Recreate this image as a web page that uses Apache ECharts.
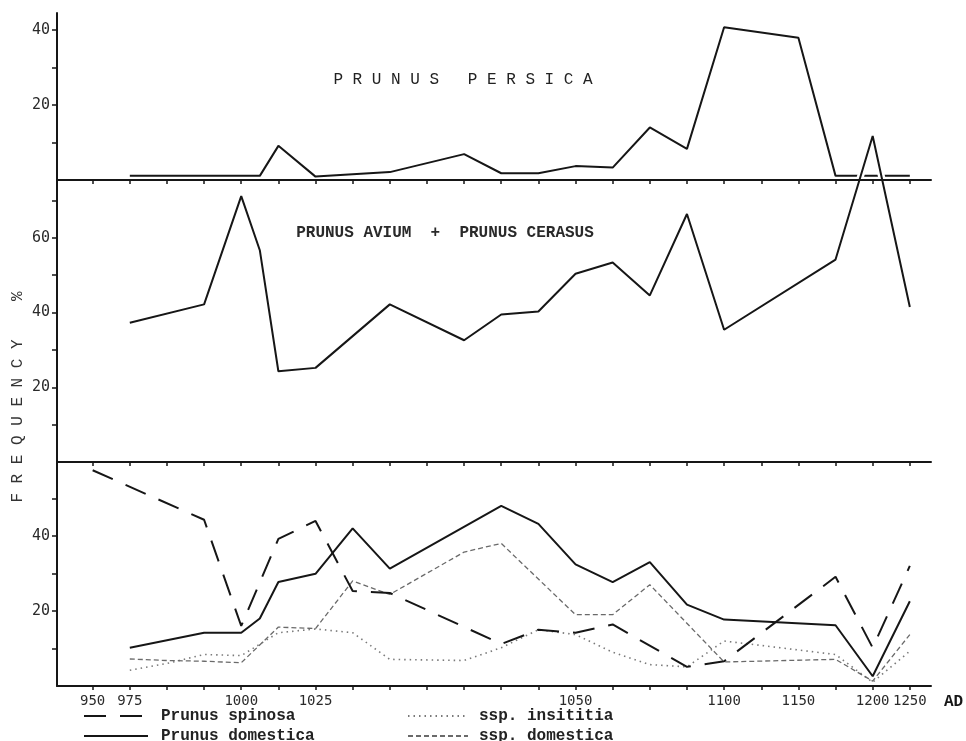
<!DOCTYPE html>
<html>
<head>
<meta charset="utf-8">
<script src="https://cdn.jsdelivr.net/npm/echarts@6/dist/echarts.min.js"></script>
<style>
  html, body { margin: 0; padding: 0; background: #fff; }
  #chart { width: 966px; height: 741px; }
</style>
</head>
<body>
<div id="chart"></div>
<script>
// Sample positions along the time axis (in tick steps; 4.5 lies between the 1000 tick and the next one)
var samplePos = [0, 1, 2, 3, 4, 4.5, 5, 6, 7, 8, 9, 10, 11, 12, 13, 14, 15, 16, 17, 18, 19, 20, 21, 22];

// Tick labels (dates AD) and the tick steps they sit on
var labelPos   = [0, 1, 4, 6, 13, 17, 19, 21, 22];
var labelTexts = ['950', '975', '1000', '1025', '1050', '1100', '1150', '1200', '1250'];
var tickPos    = [0, 1, 2, 3, 4, 5, 6, 7, 8, 9, 10, 11, 12, 13, 14, 15, 16, 17, 18, 19, 20, 21, 22];

// Frequency % per sample (null = no sample drawn there)
var persica  = [null, 1.1, null, null, 1.1, 1.1, 9.1, 0.9, null, 2.1, null, 6.9, 1.8, 1.8, 3.7, 3.3, 14.0, 8.3, 40.7, null, 37.9, 1.1, 1.1, 1.1];
var aviumCerasus = [null, 37.3, null, 42.2, 71.2, 56.7, 24.3, 25.2, null, 42.2, null, 32.6, 39.5, 40.3, 50.4, 53.4, 44.6, 66.4, 35.4, null, null, 54.2, 87.3, 41.5];
var spinosa  = [57.5, null, null, 44.3, 16.0, null, 39.2, 44.0, 25.3, 24.8, null, null, 11.2, 15.0, 14.2, 16.4, null, 5.1, 6.6, null, null, 29.1, 10.2, 32.0];
var domestica = [null, 10.2, null, 14.2, 14.2, 18.0, 27.7, 29.9, 42.0, 31.3, null, null, 48.0, 43.2, 32.4, 27.7, 33.0, 21.7, 17.7, null, null, 16.2, 2.6, 22.6];
var insititia = [null, 4.2, 6.0, 8.4, 8.1, null, 14.2, 15.2, 14.2, 7.1, null, 6.8, 10.2, 15.0, 13.7, 9.0, 5.7, 5.1, 12.0, null, null, 8.4, 1.0, 9.3];
var sspDomestica = [null, 7.2, 6.8, 6.6, 6.2, null, 15.7, 15.3, 28.0, 24.4, null, 35.7, 38.0, null, 19.0, 19.0, 27.0, null, 6.4, null, null, 7.1, 1.3, 13.7];

// Y tick values for the three panels
var persicaTicks = [10, 20, 30, 40],            persicaLabels = [20, 40];
var cerasusTicks = [10, 20, 30, 40, 50, 60, 70], cerasusLabels = [20, 40, 60];
var prunusTicks  = [10, 20, 30, 40, 50],         prunusLabels  = [20, 40];

function pairs(values) {
  var out = [];
  for (var i = 0; i < samplePos.length; i++) {
    if (values[i] !== null) out.push([samplePos[i], values[i]]);
  }
  return out;
}

var INK = '#161616';
var MONO = '"DejaVu Sans Mono", monospace';
var TYPE = '"Liberation Mono", "DejaVu Sans Mono", monospace';

var X_MIN = -0.96, X_MAX = 22.57;

function xAxis(gridIndex, withLabels) {
  return {
    type: 'value', gridIndex: gridIndex, min: X_MIN, max: X_MAX,
    position: 'bottom', z: 6,
    axisLine: { show: true, onZero: false, lineStyle: { color: INK, width: 2 } },
    axisTick: { show: true, length: 4, customValues: tickPos, lineStyle: { color: INK, width: 1.5 } },
    axisLabel: withLabels ? {
      show: true, customValues: labelPos, margin: 8,
      fontFamily: MONO, fontSize: 14, color: '#2a2a2a',
      formatter: function (v) {
        var i = labelPos.indexOf(Math.round(v));
        return i >= 0 ? labelTexts[i] : '';
      }
    } : { show: false },
    name: withLabels ? 'AD' : '',
    nameLocation: 'end', nameGap: 13,
    nameTextStyle: { fontFamily: TYPE, fontSize: 16, fontWeight: 'bold', color: INK, verticalAlign: 'top', padding: [8, 0, 0, 0] },
    splitLine: { show: false }
  };
}

function yAxis(gridIndex, max, ticks, labels) {
  return {
    type: 'value', gridIndex: gridIndex, min: 0, max: max,
    position: 'left',
    axisLine: { show: true, onZero: false, lineStyle: { color: INK, width: 2 } },
    axisTick: { show: true, length: 5, customValues: ticks, lineStyle: { color: INK, width: 1.5 } },
    axisLabel: { show: true, customValues: labels, margin: 7, fontFamily: MONO, fontSize: 15, color: '#2a2a2a' },
    splitLine: { show: false }
  };
}

// One legend block per entry: two columns of two rows under the bottom axis
function legendEntry(name, left, top, width, gap) {
  return {
    orient: 'horizontal', left: left, top: top, padding: 0,
    itemWidth: width, itemHeight: 12,
    itemStyle: { opacity: 0 },
    data: [name],
    textStyle: { fontFamily: TYPE, fontSize: 16, fontWeight: 'bold', color: '#222', padding: [0, 0, 0, gap] }
  };
}

var chart = echarts.init(document.getElementById('chart'), null, { renderer: 'canvas' });

chart.setOption({
  animation: false,
  backgroundColor: '#fff',
  color: [INK],
  grid: [
    { left: 57, width: 874, top: 13,  height: 167 },
    { left: 57, width: 874, top: 180, height: 282 },
    { left: 57, width: 874, top: 462, height: 224 }
  ],
  xAxis: [xAxis(0, false), xAxis(1, false), xAxis(2, true)],
  yAxis: [
    yAxis(0, 44.5, persicaTicks, persicaLabels),
    yAxis(1, 75.5, cerasusTicks, cerasusLabels),
    yAxis(2, 59.7, prunusTicks, prunusLabels)
  ],
  legend: [
    legendEntry('Prunus spinosa',   83, 708, 64, 8),
    legendEntry('Prunus domestica', 83, 728, 64, 8),
    legendEntry('ssp. insititia',  407, 708, 60, 6),
    legendEntry('ssp. domestica',  407, 728, 60, 6)
  ],
  graphic: [
    { type: 'text', x: 463, y: 80, style: { text: 'P R U N U S   P E R S I C A', font: '16px ' + TYPE, fill: '#222', align: 'center', verticalAlign: 'middle' } },
    { type: 'text', x: 445, y: 233, style: { text: 'PRUNUS AVIUM  +  PRUNUS CERASUS', font: 'bold 16px ' + TYPE, fill: '#2a2a2a', align: 'center', verticalAlign: 'middle' } },
    { type: 'text', x: 18, y: 397, rotation: Math.PI / 2, style: { text: 'F R E Q U E N C Y    %', font: '16px ' + TYPE, fill: '#333', align: 'center', verticalAlign: 'middle' } }
  ],
  series: [
    {
      name: 'Prunus persica', type: 'line', xAxisIndex: 0, yAxisIndex: 0, z: 2,
      data: pairs(persica), symbol: 'none',
      lineStyle: { color: INK, width: 2 }
    },
    {
      // white halo under the avium/cerasus curve where it runs up through the upper panel
      name: 'halo', type: 'line', xAxisIndex: 1, yAxisIndex: 1, z: 3, clip: false,
      data: pairs(aviumCerasus), symbol: 'none', silent: true,
      lineStyle: { color: '#fff', width: 7 }
    },
    {
      name: 'Prunus avium + Prunus cerasus', type: 'line', xAxisIndex: 1, yAxisIndex: 1, z: 4, clip: false,
      data: pairs(aviumCerasus), symbol: 'none',
      lineStyle: { color: INK, width: 2 }
    },
    {
      name: 'ssp. insititia', type: 'line', xAxisIndex: 2, yAxisIndex: 2, z: 2,
      data: pairs(insititia), symbol: 'none', itemStyle: { color: '#7a7a7a' },
      lineStyle: { color: '#7a7a7a', width: 1.6, type: [1.5, 4] }
    },
    {
      name: 'ssp. domestica', type: 'line', xAxisIndex: 2, yAxisIndex: 2, z: 2,
      data: pairs(sspDomestica), symbol: 'none', itemStyle: { color: '#6a6a6a' },
      lineStyle: { color: '#6a6a6a', width: 1.3, type: [5, 3] }
    },
    {
      name: 'Prunus domestica', type: 'line', xAxisIndex: 2, yAxisIndex: 2, z: 3,
      data: pairs(domestica), symbol: 'none', itemStyle: { color: INK },
      lineStyle: { color: INK, width: 2 }
    },
    {
      name: 'Prunus spinosa', type: 'line', xAxisIndex: 2, yAxisIndex: 2, z: 3,
      data: pairs(spinosa), symbol: 'none', itemStyle: { color: INK },
      lineStyle: { color: INK, width: 2, type: [22, 14] }
    }
  ]
});
</script>
</body>
</html>
